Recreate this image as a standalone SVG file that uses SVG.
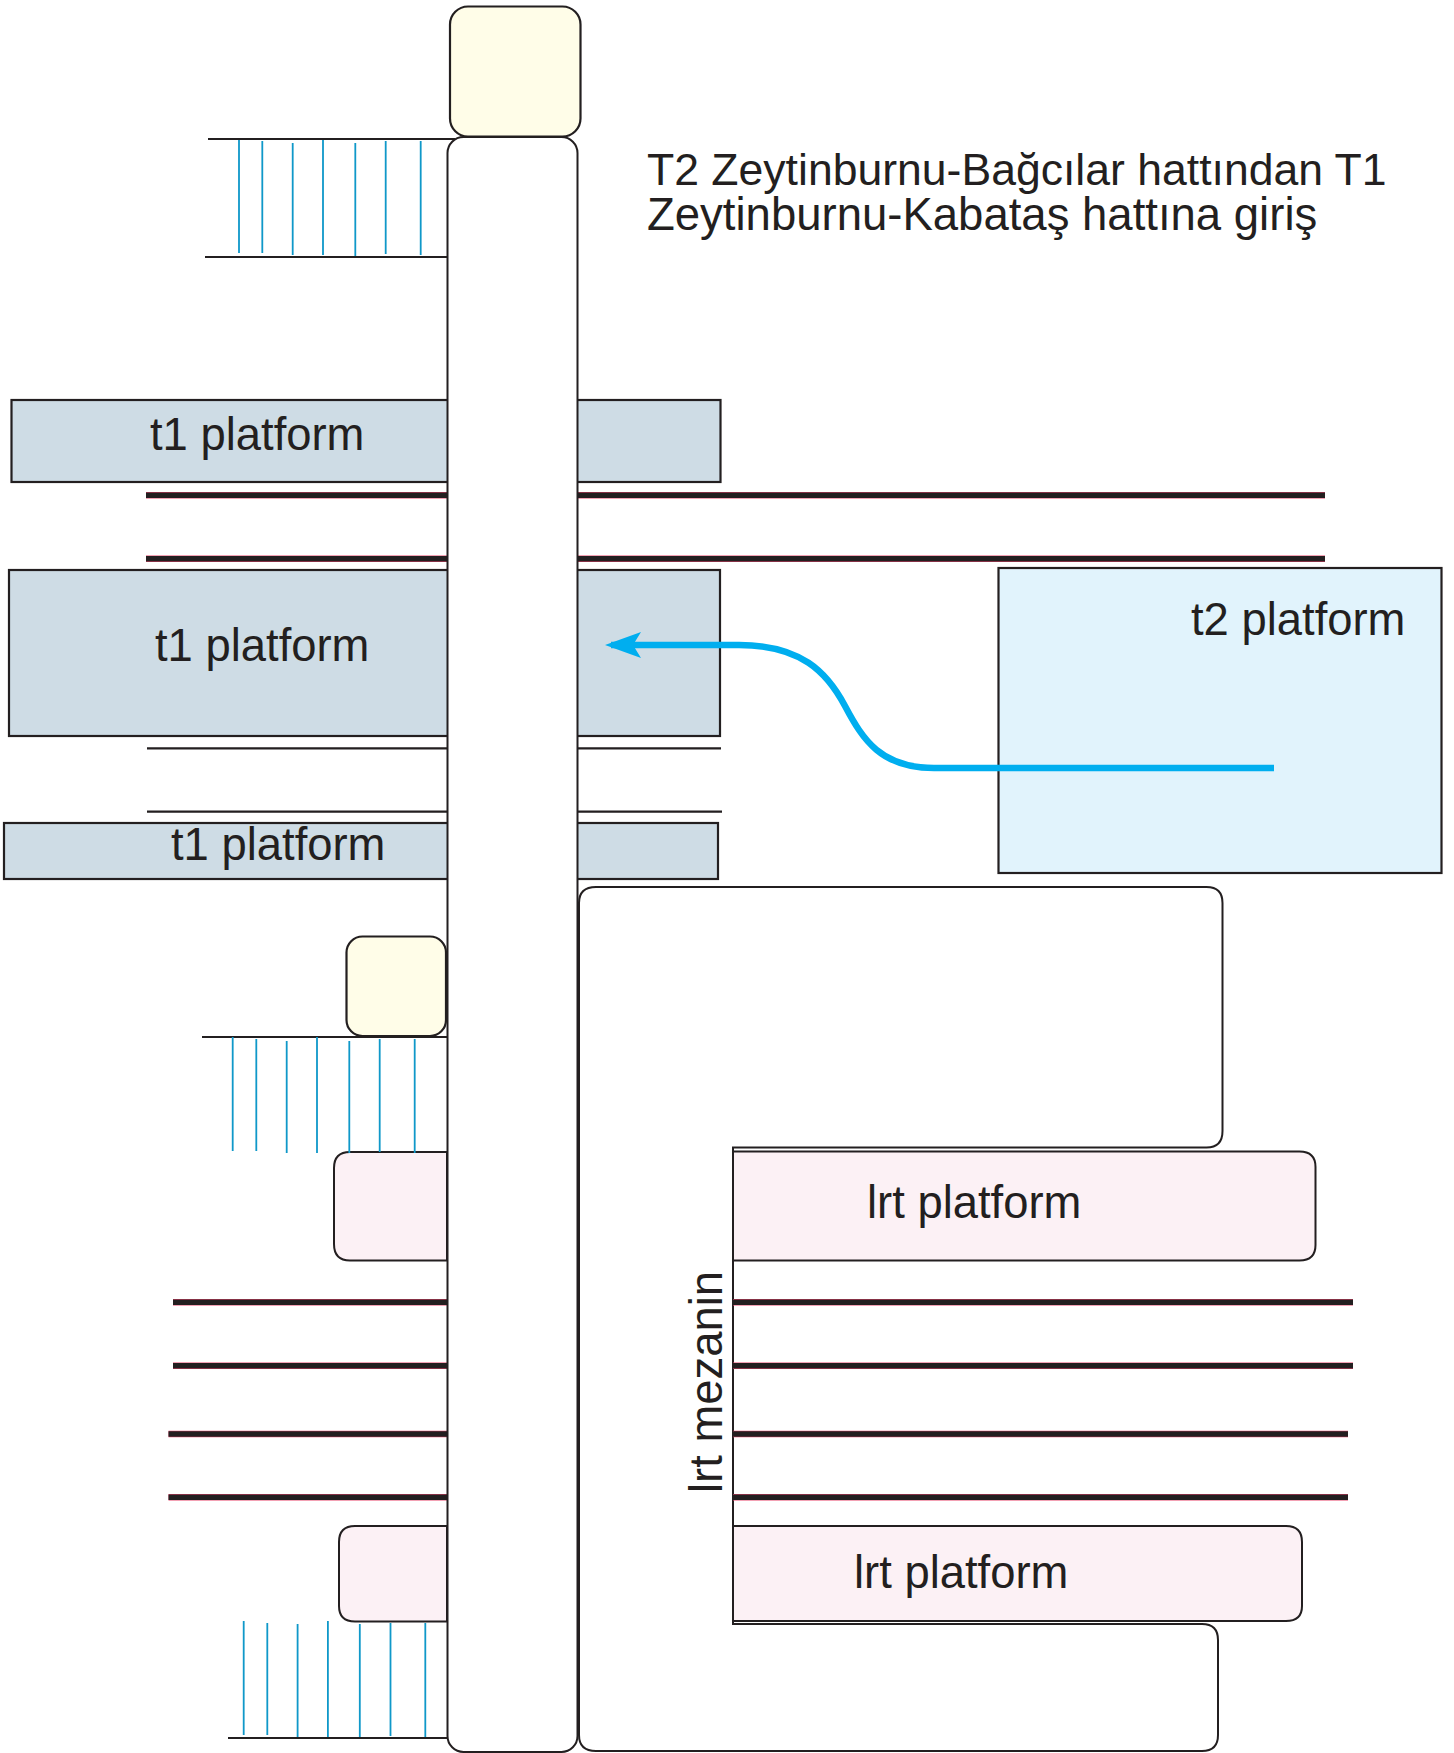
<svg xmlns="http://www.w3.org/2000/svg" width="1454" height="1753" viewBox="0 0 1454 1753">
<style>
.o{stroke:#231F20;stroke-width:2.200;fill:none}
.t1{fill:#CEDCE5;stroke:#231F20;stroke-width:2.200}
.lrt{fill:#FCF1F5;stroke:#231F20;stroke-width:2}
.y{fill:#FFFDE8;stroke:#231F20;stroke-width:2.200}
.w{fill:#fff;stroke:#231F20;stroke-width:2}
.r{stroke:#E8456A;stroke-width:6.400;fill:none}
.k{stroke:#231F20;stroke-width:5.400;fill:none}
.s{stroke:#0F98C9;stroke-width:1.800;fill:none}
text{font-family:"Liberation Sans",Arial,sans-serif;font-size:45.400px;fill:#231F20}
</style>
<defs>
<marker id="ah" markerUnits="userSpaceOnUse" markerWidth="38" markerHeight="28" refX="30" refY="13" orient="auto">
<path d="M0 0L36 13L0 26L8 13Z" fill="#00AEEF"/>
</marker>
</defs>
<rect width="1454" height="1753" fill="#fff"/>
<g id="t1-platform-1"><rect class="t1" x="11.500" y="400" width="709" height="82"/><text x="150" y="450">t1 platform</text></g>
<g id="t1-platform-2"><rect class="t1" x="9" y="570" width="711" height="166"/><text x="155" y="661">t1 platform</text></g>
<g id="t1-platform-3"><rect class="t1" x="4" y="823" width="714" height="56"/><text x="171" y="860">t1 platform</text></g>
<g id="t2-platform"><rect x="998.500" y="568" width="443" height="305" fill="#E1F3FC" stroke="#231F20" stroke-width="2.200"/><text x="1191" y="635">t2 platform</text></g>
<g id="tracks">
<path class="r" d="M146 495.300H1325M146 558.700H1325M173 1302.300H447M173 1365.700H447M168.500 1434H447M168.500 1497.300H447"/>
<path class="k" d="M146 495.300H1325M146 558.700H1325M173 1302.300H447M173 1365.700H447M168.500 1434H447M168.500 1497.300H447"/>
<path class="o" d="M147 748.300H721M147 811.700H722"/>
</g>
<g id="stair-top">
<path class="o" d="M208 139H455M205 257H450"/>
<path class="s" d="M239 140V253M262.300 141V253M292.700 143V255M323 140V255M355.300 143V256M385.700 141V254M420.700 141V255"/>
</g>
<g id="lrt-left-1"><path class="lrt" d="M447 1152H350Q334 1152 334 1168V1244Q334 1260.500 350 1260.500H447Z"/></g>
<g id="lrt-left-2"><path class="lrt" d="M447 1526H355Q339 1526 339 1542V1606Q339 1621.500 355 1621.500H447Z"/></g>
<g id="stair-mid">
<path class="o" d="M202 1037H447"/>
<path class="s" d="M232.700 1037V1151M256.300 1039V1151M286.700 1041V1153M317 1037V1153M349.300 1041V1153M379.700 1039V1152M414.700 1039V1153"/>
</g>
<g id="stair-bottom">
<path class="s" d="M243.700 1621V1735M267.300 1623V1735M297.600 1624V1737M327.900 1621V1737M359.800 1624V1737M390.500 1623V1736M425.300 1623V1737"/>
<path class="o" d="M228 1738H451"/>
</g>
<g id="entrance-top"><rect class="y" x="450" y="6.500" width="130.500" height="130" rx="18"/></g>
<g id="entrance-mid"><rect class="y" x="346.500" y="936.500" width="99.500" height="99.500" rx="16"/></g>
<g id="main-corridor"><rect class="w" x="447.500" y="137" width="130" height="1615" rx="16"/></g>
<g id="lrt-mezanin">
<path class="w" d="M596 887H1206.500Q1222.500 887 1222.500 903V1131Q1222.500 1147.500 1206.500 1147.500H733V1624H1202Q1218 1624 1218 1640V1735Q1218 1751 1202 1751H596Q579 1751 579 1735V903Q579 887 596 887Z"/>
<text transform="translate(722 1493) rotate(-90)">lrt mezanin</text>
</g>
<g id="lrt-platform-1"><path class="lrt" d="M733 1151.500H1299.500Q1315.500 1151.500 1315.500 1167V1245Q1315.500 1260.500 1299.500 1260.500H733Z"/><text x="867" y="1218">lrt platform</text></g>
<g id="lrt-platform-2"><path class="lrt" d="M733 1526H1286Q1302 1526 1302 1542V1606Q1302 1621 1286 1621H733Z"/><text x="854" y="1588">lrt platform</text></g>
<g id="tracks-lrt-right">
<path class="r" d="M733 1302.300H1353M733 1365.700H1353M733 1434H1348M733 1497.300H1348"/>
<path class="k" d="M733 1302.300H1353M733 1365.700H1353M733 1434H1348M733 1497.300H1348"/>
</g>
<g id="title"><text><tspan x="647" y="185" font-size="44.550">T2 Zeytinburnu-Bağcılar hattından T1</tspan><tspan x="647" y="230" font-size="45.500">Zeytinburnu-Kabataş hattına giriş</tspan></text></g>
<g id="connectors"><path d="M1274 768H934C881 768 863 740 845 706C827 672 801 645 739 645H611" fill="none" stroke="#00AEEF" stroke-width="6.500" marker-end="url(#ah)"/></g>
</svg>
